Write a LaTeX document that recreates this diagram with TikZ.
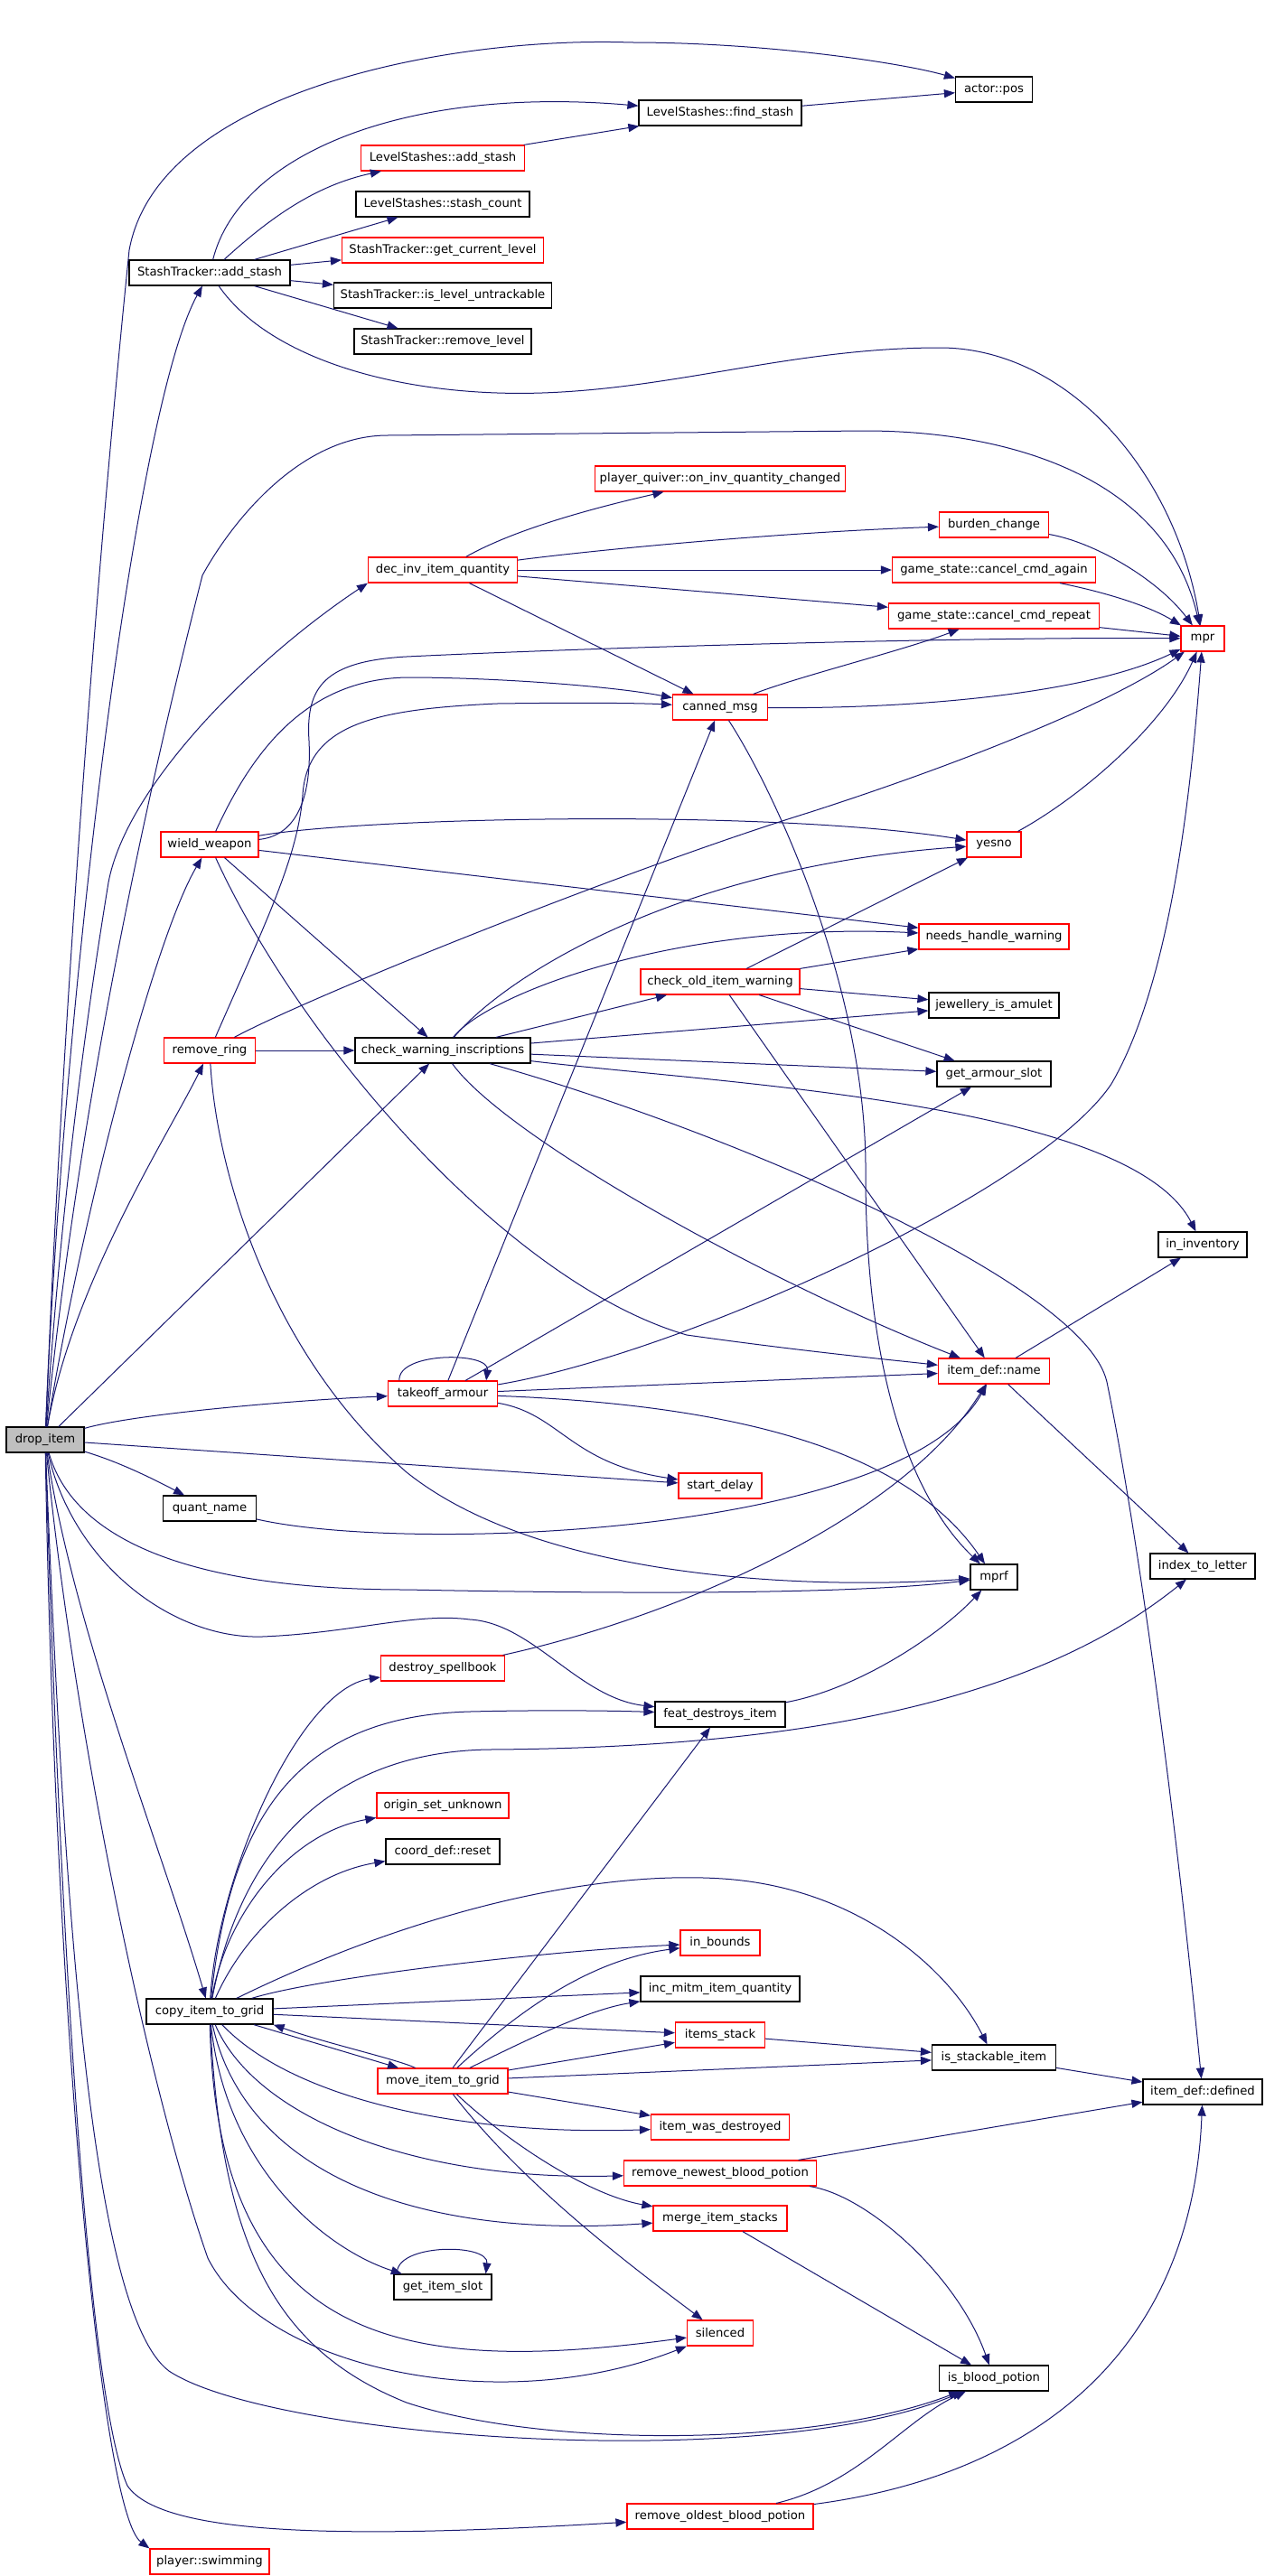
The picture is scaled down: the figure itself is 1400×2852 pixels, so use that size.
\documentclass[tikz,border=0pt]{standalone}
\usepackage{fontspec}
\setmainfont{DejaVu Sans}
\usepackage{tikz}
\usetikzlibrary{arrows.meta}

\definecolor{edgeblue}{HTML}{191970}
\definecolor{rootgray}{HTML}{BFBFBF}

\begin{document}
\begin{tikzpicture}[x=0.5pt,y=-0.5pt,
  fn/.style={draw=black,line width=0.6pt,minimum height=14pt,inner xsep=1pt,inner ysep=0pt,font=\fontsize{6.6}{8}\selectfont},
  fnred/.style={fn,draw=red},
  fnroot/.style={fn,fill=rootgray},
  bw/.style={minimum width=#1*0.5pt},
  call/.style={draw=edgeblue,line width=0.5pt,-{Triangle[length=6pt,width=4.6pt]}}]
\fill[white] (0,0) rectangle (1400,2852);
\useasboundingbox (0,0) rectangle (1400,2852);

% functions with a documented body (black)
\foreach \n/\x/\y/\w/\t in {
  actorpos/1100/99/85/actor::pos,
  findstash/797/125/180/LevelStashes::find\_stash,
  stashcount/490/226/192/LevelStashes::stash\_count,
  untrackable/490/327/241/StashTracker::is\_level\_untrackable,
  removelevel/490/378/196/StashTracker::remove\_level,
  staddstash/232/302/178/StashTracker::add\_stash,
  amulet/1100/1113/144/jewellery\_is\_amulet,
  checkwarn/490/1163/194/check\_warning\_inscriptions,
  armourslot/1100/1189/126/get\_armour\_slot,
  ininv/1331/1378/98/in\_inventory,
  quantname/232/1670/103/quant\_name,
  mprf/1100/1746/52/mprf,
  indexletter/1331/1734/116/index\_to\_letter,
  featdestroys/797/1898/144/feat\_destroys\_item,
  coordreset/490/2050/126/coord\_def::reset,
  incmitm/797/2202/176/inc\_mitm\_item\_quantity,
  copygrid/232/2227/140/copy\_item\_to\_grid,
  stackable/1100/2278/137/is\_stackable\_item,
  itemdefined/1331/2316/132/item\_def::defined,
  getslot/490/2532/108/get\_item\_slot,
  bloodpotion/1100/2633/121/is\_blood\_potion}
  \node[fn,bw=\w] (\n) at (\x,\y) {\t};

% functions with further calls (red)
\foreach \n/\x/\y/\w/\t in {
  lsaddstash/490/175/181/LevelStashes::add\_stash,
  getcurlevel/490/277/223/StashTracker::get\_current\_level,
  quiverchg/797/530/277/player\_quiver::on\_inv\_quantity\_changed,
  burden/1100/581/121/burden\_change,
  decinv/490/631/165/dec\_inv\_item\_quantity,
  cmdagain/1100/631/225/game\_state::cancel\_cmd\_again,
  cmdrepeat/1100/682/233/game\_state::cancel\_cmd\_repeat,
  mpr/1331/707/48/mpr,
  canned/797/783/105/canned\_msg,
  wield/232/935/108/wield\_weapon,
  yesno/1100/935/60/yesno,
  needshandle/1100/1037/166/needs\_handle\_warning,
  checkold/797/1087/176/check\_old\_item\_warning,
  removering/232/1163/101/remove\_ring,
  itemname/1100/1518/123/item\_def::name,
  takeoff/490/1543/121/takeoff\_armour,
  startdelay/797/1645/92/start\_delay,
  destroybook/490/1847/137/destroy\_spellbook,
  originunknown/490/1999/146/origin\_set\_unknown,
  inbounds/797/2151/88/in\_bounds,
  itemsstack/797/2253/99/items\_stack,
  movegrid/490/2304/144/move\_item\_to\_grid,
  wasdestroyed/797/2355/153/item\_was\_destroyed,
  removenewest/797/2406/213/remove\_newest\_blood\_potion,
  mergestacks/797/2456/148/merge\_item\_stacks,
  silenced/797/2583/73/silenced,
  removeoldest/797/2786/206/remove\_oldest\_blood\_potion,
  swimming/232/2836/132/player::swimming}
  \node[fnred,bw=\w] (\n) at (\x,\y) {\t};

\node[fnroot,bw=86] (drop) at (50,1594) {drop\_item};

% straight calls
\foreach \a/\b in {lsaddstash/findstash,findstash/actorpos,staddstash/stashcount,
  staddstash/getcurlevel,staddstash/untrackable,staddstash/removelevel,
  decinv/cmdagain,decinv/cmdrepeat,decinv/canned,cmdrepeat/mpr,
  wield/needshandle,wield/checkwarn,removering/checkwarn,drop/checkwarn,drop/startdelay,
  checkwarn/checkold,checkwarn/amulet,checkwarn/armourslot,
  checkold/needshandle,checkold/yesno,checkold/amulet,checkold/armourslot,checkold/itemname,
  takeoff/canned,takeoff/armourslot,takeoff/itemname,itemname/ininv,itemname/indexletter,
  copygrid/incmitm,copygrid/itemsstack,copygrid/movegrid,
  movegrid/featdestroys,movegrid/itemsstack,movegrid/stackable,movegrid/wasdestroyed,
  itemsstack/stackable,stackable/itemdefined,removenewest/itemdefined,mergestacks/bloodpotion}
  \draw[call] (\a) -- (\b);

% StashTracker::add_stash
\draw[call] (staddstash) .. controls (300,240) and (350,205) .. (lsaddstash);
\draw[call] (staddstash) .. controls (265,170) and (450,95) .. (findstash);
\draw[call] (staddstash) .. controls (300,400) and (450,440) .. (600,435) .. controls (750,430) and (880,385) .. (1040,385) .. controls (1180,385) and (1300,520) .. (mpr);

% drop_item, upwards
\draw[call] (drop) .. controls (70,1100) and (150,450) .. (staddstash);
\draw[call] (drop) .. controls (70,1100) and (110,600) .. (143,277) .. controls (175,100) and (500,40) .. (698,47) .. controls (850,47) and (1000,70) .. (actorpos);
\draw[call] (drop) .. controls (90,1200) and (170,850) .. (224,637) .. controls (254,582) and (330,482) .. (429,482) -- (957,477) .. controls (1120,477) and (1290,530) .. (mpr);
\draw[call] (drop) .. controls (70,1300) and (100,1100) .. (120,977) .. controls (140,870) and (280,730) .. (decinv.south west);
\draw[call] (drop) .. controls (90,1350) and (170,1040) .. (wield);
\draw[call] (drop) .. controls (80,1420) and (190,1250) .. (removering);
\draw[call] (drop) .. controls (150,1565) and (330,1550) .. (takeoff);
\draw[call] (drop) .. controls (130,1618) and (165,1635) .. (quantname);

% drop_item, downwards
\draw[call] (drop) .. controls (80,1700) and (200,1760) .. (450,1760) .. controls (700,1765) and (950,1765) .. (mprf);
\draw[call] (drop) .. controls (80,1730) and (190,1815) .. (290,1812) .. controls (390,1808) and (460,1785) .. (520,1793) .. controls (590,1797) and (640,1880) .. (featdestroys);
\draw[call] (drop) .. controls (80,1800) and (180,2050) .. (copygrid);
\draw[call] (drop) .. controls (80,1900) and (160,2300) .. (230,2500) .. controls (290,2620) and (550,2680) .. (silenced);
\draw[call] (drop) .. controls (70,2100) and (100,2560) .. (187,2625) .. controls (300,2700) and (850,2740) .. (bloodpotion);
\draw[call] (drop) .. controls (65,2100) and (95,2650) .. (141,2752) .. controls (180,2810) and (400,2810) .. (removeoldest);
\draw[call] (drop) .. controls (60,2200) and (110,2780) .. (swimming.north west);

% dec_inv_item_quantity and friends
\draw[call] (decinv) .. controls (580,580) and (690,555) .. (quiverchg);
\draw[call] (decinv) .. controls (650,610) and (850,590) .. (burden);
\draw[call] (burden) .. controls (1210,600) and (1280,640) .. (mpr);
\draw[call] (cmdagain) .. controls (1220,655) and (1270,670) .. (mpr);
\draw[call] (canned) .. controls (880,750) and (1000,720) .. (cmdrepeat);
\draw[call] (canned) .. controls (1000,785) and (1200,770) .. (mpr);
\draw[call] (canned) .. controls (860,880) and (960,1100) .. (958,1300) .. controls (958,1500) and (1000,1650) .. (mprf);
\draw[call] (yesno) .. controls (1200,880) and (1290,800) .. (mpr);

% wield_weapon
\draw[call] (wield) .. controls (400,905) and (850,895) .. (yesno);
\draw[call] (wield) .. controls (280,830) and (340,752) .. (450,750) .. controls (550,750) and (680,760) .. (canned);
\draw[call] (wield) .. controls (330,925) and (345,880) .. (342,820) .. controls (338,760) and (360,732) .. (450,727) .. controls (700,715) and (1100,705) .. (mpr);
\draw[call] (wield) .. controls (330,1150) and (560,1420) .. (760,1478) .. controls (880,1495) and (980,1505) .. (itemname);

% remove_ring
\draw[call] (removering) .. controls (290,1030) and (330,950) .. (335,880) .. controls (340,800) and (420,785) .. (550,779) .. controls (620,778) and (700,778) .. (canned);
\draw[call] (removering) .. controls (350,1100) and (700,960) .. (894,900) .. controls (1050,850) and (1230,780) .. (mpr);
\draw[call] (removering) .. controls (240,1300) and (300,1500) .. (450,1630) .. controls (600,1750) and (900,1760) .. (mprf);

% check_warning_inscriptions
\draw[call] (checkwarn) .. controls (540,1100) and (750,1020) .. (needshandle);
\draw[call] (checkwarn) .. controls (560,1080) and (750,960) .. (yesno);
\draw[call] (checkwarn) .. controls (800,1200) and (1250,1220) .. (ininv);
\draw[call] (checkwarn) .. controls (560,1260) and (850,1420) .. (itemname);
\draw[call] (checkwarn) .. controls (800,1250) and (1200,1420) .. (1225,1530) .. controls (1260,1700) and (1300,2000) .. (itemdefined);

% takeoff_armour
\draw[call] ([xshift=6.5pt]takeoff.north west) .. controls +(-1pt,16pt) and +(2pt,16pt) .. ([xshift=-6.5pt]takeoff.north east);
\draw[call] (takeoff) .. controls (750,1500) and (1150,1320) .. (1230,1200) .. controls (1300,1080) and (1320,850) .. (mpr);
\draw[call] (takeoff) .. controls (620,1565) and (630,1620) .. (startdelay);
\draw[call] (takeoff) .. controls (800,1555) and (1000,1600) .. (mprf);

\draw[call] (quantname) .. controls (450,1720) and (1000,1700) .. (itemname);
\draw[call] (destroybook) .. controls (750,1790) and (1000,1680) .. (itemname);
\draw[call] (featdestroys) .. controls (950,1870) and (1040,1810) .. (mprf);

% copy_item_to_grid
\draw[call] (copygrid) .. controls (240,2080) and (330,1870) .. (destroybook);
\draw[call] (copygrid) .. controls (255,2010) and (330,1900) .. (520,1895) .. controls (600,1893) and (680,1894) .. (featdestroys);
\draw[call] (copygrid) .. controls (270,2030) and (380,1940) .. (540,1937) .. controls (900,1935) and (1150,1880) .. (indexletter);
\draw[call] (copygrid) .. controls (250,2120) and (320,2030) .. (originunknown);
\draw[call] (copygrid) .. controls (270,2140) and (340,2075) .. (coordreset);
\draw[call] (copygrid) .. controls (450,2120) and (650,2070) .. (800,2080) .. controls (950,2090) and (1050,2180) .. (stackable);
\draw[call] (copygrid) .. controls (350,2190) and (600,2160) .. (inbounds);
\draw[call] (copygrid) .. controls (320,2320) and (500,2365) .. (wasdestroyed);
\draw[call] (copygrid) .. controls (280,2340) and (450,2415) .. (removenewest);
\draw[call] (copygrid) .. controls (270,2400) and (450,2480) .. (mergestacks);
\draw[call] (copygrid) .. controls (250,2400) and (360,2490) .. (getslot);
\draw[call] (copygrid) .. controls (240,2600) and (450,2630) .. (silenced);
\draw[call] (copygrid) .. controls (245,2480) and (300,2600) .. (450,2660) .. controls (600,2710) and (900,2710) .. (bloodpotion);
\draw[call] ([xshift=2pt]getslot.north west) .. controls +(-1pt,17pt) and +(2pt,17pt) .. ([xshift=-3.5pt]getslot.north east);

% move_item_to_grid
\draw[call] (movegrid) .. controls (440,2280) and (360,2262) .. (copygrid.south east);
\draw[call] (movegrid) .. controls (570,2230) and (650,2170) .. (inbounds);
\draw[call] (movegrid) .. controls (580,2260) and (650,2225) .. (incmitm);
\draw[call] (movegrid) .. controls (560,2370) and (650,2430) .. (mergestacks);
\draw[call] (movegrid) .. controls (580,2420) and (700,2510) .. (silenced);

% blood potions
\draw[call] (removenewest) .. controls (960,2430) and (1060,2520) .. (bloodpotion);
\draw[call] (removeoldest) .. controls (950,2750) and (1000,2680) .. (bloodpotion);
\draw[call] (removeoldest) .. controls (1150,2740) and (1320,2600) .. (itemdefined);
\end{tikzpicture}
\end{document}
